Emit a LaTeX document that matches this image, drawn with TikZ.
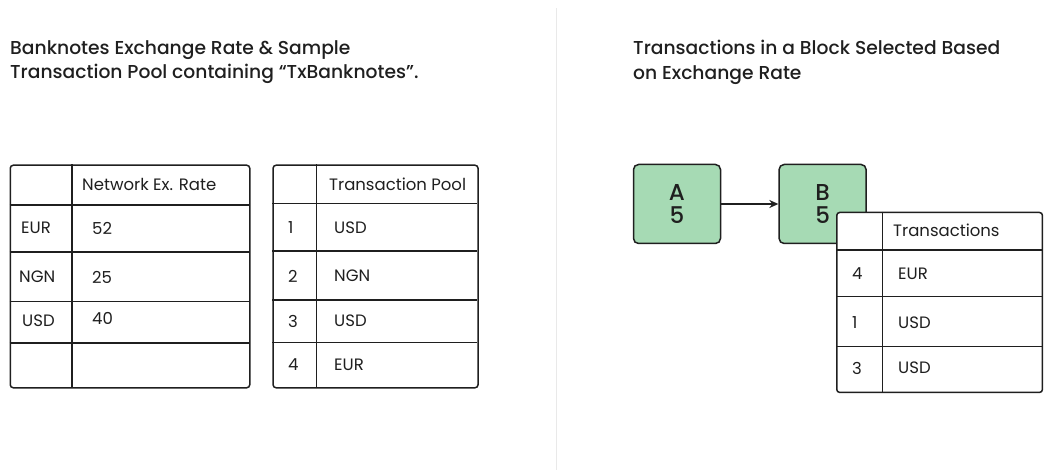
\documentclass[tikz,border=0pt]{standalone}
\usepackage{fontspec}
\setmainfont{Poppins}
\newfontfamily\titlefont{Poppins Medium}
\usetikzlibrary{arrows.meta}
\definecolor{ink}{HTML}{1F1F1F}
\definecolor{blockgreen}{HTML}{A6DAB4}
\definecolor{divider}{HTML}{E9E9E9}
\begin{document}
\begin{tikzpicture}[x=1pt,y=-1pt,
  tbl/.style={draw=ink, line width=1.5pt, rounded corners=3pt, fill=white, inner sep=0pt, anchor=north west},
  grid/.style={draw=ink, line width=1.5pt},
  cell/.style={anchor=west, inner sep=0pt, font=\fontsize{16.5}{18}\selectfont, text=ink},
  title/.style={anchor=north west, align=left, inner sep=0pt, font=\titlefont\fontsize{18.7}{24.5}\selectfont, text=ink},
  block/.style={draw=ink, line width=1.5pt, rounded corners=5pt, fill=blockgreen, minimum width=87pt, minimum height=79pt, inner sep=0pt, align=center, font=\titlefont\fontsize{23}{23}\selectfont, text=ink},
  link/.style={draw=ink, line width=1.5pt, -{Stealth[length=9pt,width=8pt]}}
]
\useasboundingbox (0,0) rectangle (1044,470);
\draw[divider, line width=1pt] (556,8) -- (556,470);

% titles
\node[title] (title1) at (10,40) {Banknotes Exchange Rate \& Sample\\Transaction Pool containing “TxBanknotes”.};
\node[title] (title2) at (633,40) {Transactions in a Block Selected Based\\on Exchange Rate};

% table 1
\node[tbl, minimum width=239.5pt, minimum height=222.5pt] (t1) at (9.5,164.5) {};
\draw[grid] (72,164.5) -- (72,387);
\foreach \yy in {205,252,301.5,343} \draw[grid] (9.5,\yy) -- (249,\yy);
\node[cell] (t1h) at (82,184) {Network Ex. Rate};
\node[cell] (t1a) at (21,228) {EUR};
\node[cell] (t1b) at (19,277) {NGN};
\node[cell] (t1c) at (22,321) {USD};
\node[cell] (t1d) at (92,228) {52};
\node[cell] (t1e) at (92,277) {25};
\node[cell] (t1f) at (92,318) {40};

% table 2
\node[tbl, minimum width=205pt, minimum height=222.5pt] (t2) at (272.3,164.5) {};
\draw[grid] (316.7,164.5) -- (316.7,387);
\foreach \yy in {203.5,251,300,342.7} \draw[grid] (272.3,\yy) -- (477.3,\yy);
\node[cell] (t2h) at (329,184) {Transaction Pool};
\node[cell] (t2a) at (288,228) {1};
\node[cell] (t2b) at (288,276) {2};
\node[cell] (t2c) at (288,321) {3};
\node[cell] (t2d) at (288,365) {4};
\node[cell] (t2e) at (334,228) {USD};
\node[cell] (t2f) at (334,276) {NGN};
\node[cell] (t2g) at (334,321) {USD};
\node[cell] (t2h2) at (334,365) {EUR};

% blocks
\node[block] (A) at (677,204) {A\\5};
\node[block] (B) at (822.6,204) {B\\5};
\draw[link] (A) -- (B);

% table 3
\node[tbl, minimum width=205.7pt, minimum height=180pt] (t3) at (836,211.7) {};
\draw[grid] (882.3,211.7) -- (882.3,391.7);
\foreach \yy in {250,296.7,346.7} \draw[grid] (836,\yy) -- (1041.7,\yy);
\node[cell] (t3h) at (893,230) {Transactions};
\node[cell] (t3a) at (852,274) {4};
\node[cell] (t3b) at (852,323) {1};
\node[cell] (t3c) at (852,368) {3};
\node[cell] (t3d) at (898,274) {EUR};
\node[cell] (t3e) at (898,323) {USD};
\node[cell] (t3f) at (898,368) {USD};
\end{tikzpicture}
\end{document}
